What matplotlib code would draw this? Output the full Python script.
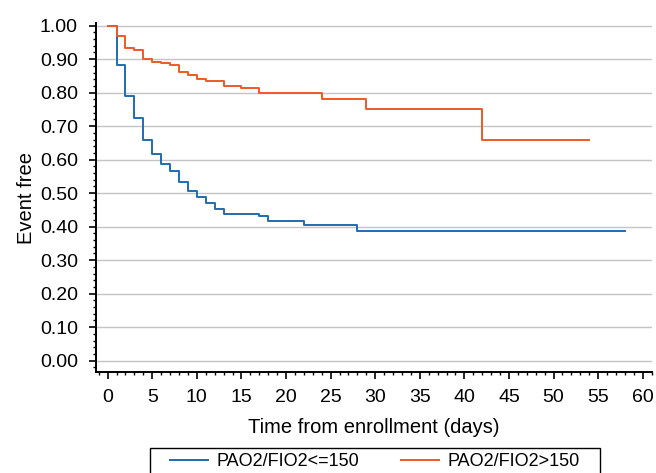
import matplotlib.pyplot as plt
from matplotlib.patches import Rectangle
from matplotlib.ticker import MultipleLocator

plt.rcParams["font.family"] = ["Liberation Sans", "DejaVu Sans"]

# Kaplan-Meier steps
days_low = [0, 1, 2, 3, 4, 5, 6, 7, 8, 9, 10, 11, 12, 13, 17, 18, 22, 28]
surv_low = [1.00, 0.883, 0.790, 0.725, 0.659, 0.616, 0.588, 0.567, 0.533,
            0.506, 0.489, 0.471, 0.454, 0.439, 0.433, 0.418, 0.406, 0.386]
end_low = 58

days_high = [0, 1, 2, 3, 4, 5, 6, 7, 8, 9, 10, 11, 13, 15, 17, 24, 29, 42]
surv_high = [1.00, 0.970, 0.932, 0.927, 0.901, 0.893, 0.890, 0.883, 0.861,
             0.852, 0.842, 0.834, 0.821, 0.815, 0.800, 0.782, 0.752, 0.659]
end_high = 54

labels = ["PAO2/FIO2<=150", "PAO2/FIO2>150"]

fig = plt.figure(figsize=(6.56, 4.73), dpi=100)
ax = fig.add_axes([0.1463, 0.2135, 0.8476, 0.7379])

ax.step(days_low + [end_low], surv_low + [surv_low[-1]], where="post",
        color="#1f6db3", lw=1.4, label=labels[0])
ax.step(days_high + [end_high], surv_high + [surv_high[-1]], where="post",
        color="#ee5a26", lw=1.4, label=labels[1])

ax.set_xlim(-1.31, 61.04)
ax.set_ylim(-0.034, 1.008)

ax.xaxis.set_major_locator(MultipleLocator(5))
ax.xaxis.set_minor_locator(MultipleLocator(1))
ax.yaxis.set_major_locator(MultipleLocator(0.1))
ax.yaxis.set_minor_locator(MultipleLocator(0.02))
ax.yaxis.set_major_formatter(lambda v, p: f"{v:.2f}")

ax.tick_params(which="major", length=5, width=1.2, labelsize=14, direction="out")
ax.tick_params(which="minor", length=2.5, width=1.0, direction="out")
ax.tick_params(axis="x", pad=7)
ax.tick_params(axis="y", pad=8)

ax.grid(axis="y", which="major", color="#c4c4c4", lw=1.0)
ax.set_axisbelow(True)

for side in ["top", "right"]:
    ax.spines[side].set_visible(False)
for side in ["left", "bottom"]:
    ax.spines[side].set_linewidth(1.4)

ax.set_xlabel("Time from enrollment (days)", fontsize=14.5, labelpad=9)
ax.set_ylabel("Event free", fontsize=14.5, labelpad=3)

# legend without its own frame, box drawn separately (runs off the bottom edge)
fig.legend(loc="upper center", bbox_to_anchor=(0.5716, 0.0529), ncol=2,
           fontsize=13, frameon=False, handlelength=2.1, handletextpad=0.5,
           columnspacing=2.3, borderpad=0.3, borderaxespad=0)
fig.add_artist(Rectangle((150 / 656, -0.05), 450 / 656, 25 / 473 + 0.05,
                         transform=fig.transFigure, fill=False,
                         edgecolor="black", lw=1.0))

fig.savefig("out.png", dpi=100)
